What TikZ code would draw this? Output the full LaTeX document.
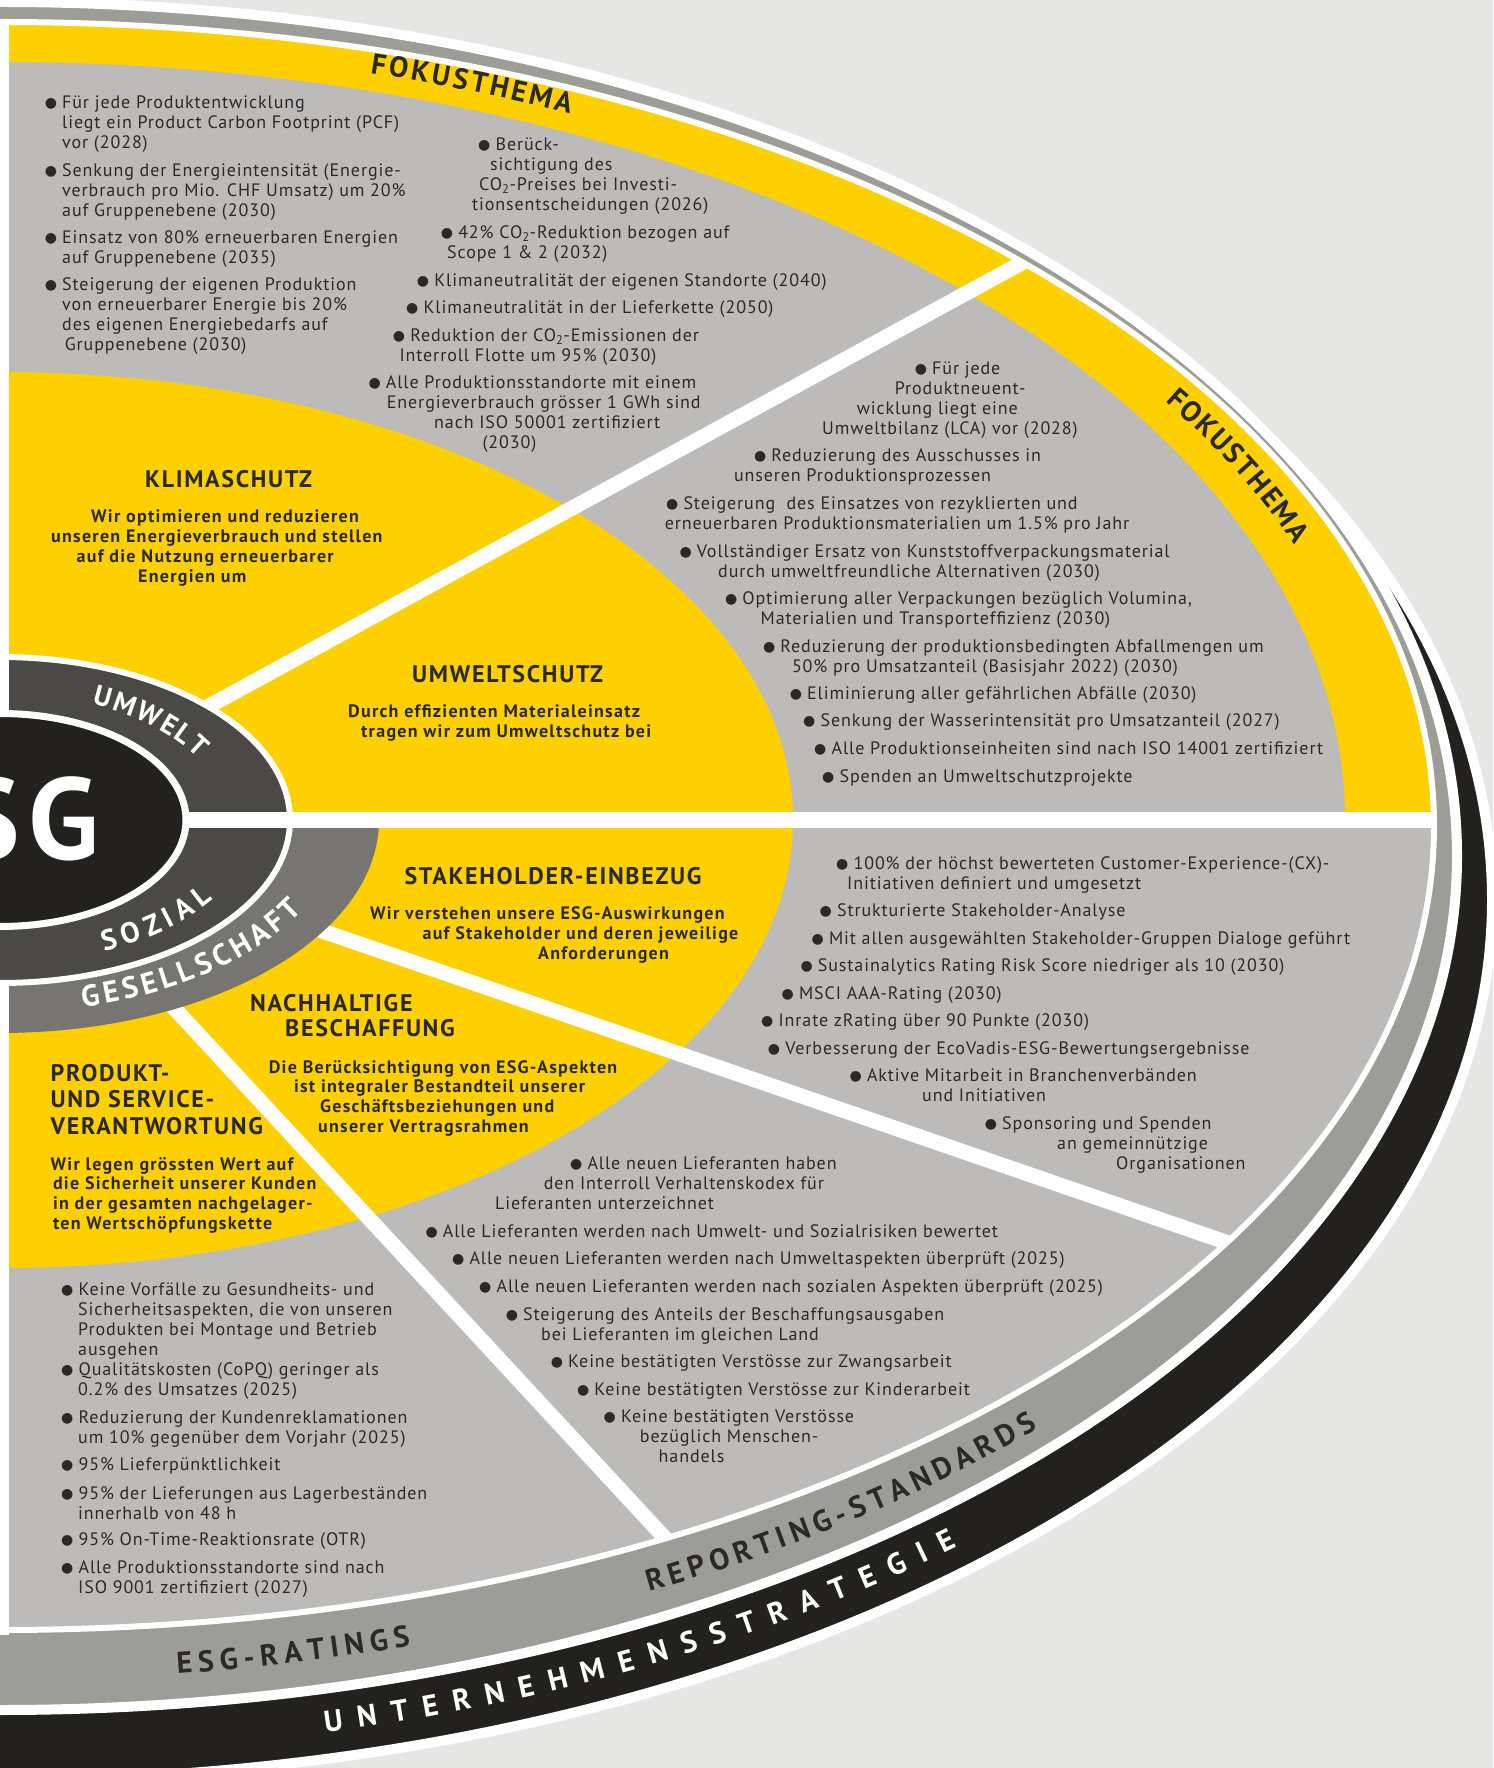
\documentclass[tikz,border=0pt]{standalone}
\usepackage{fontspec}
\setmainfont{PT Sans}[LetterSpace=5, BoldFeatures={LetterSpace=7}]
\newfontfamily\bulfont{DejaVu Sans}
\usetikzlibrary{decorations.text}

\definecolor{bgc}{HTML}{E6E6E4}
\definecolor{greyc}{HTML}{BCBBB9}
\definecolor{yel}{HTML}{FFD000}
\definecolor{ringc}{HTML}{9D9D98}
\definecolor{blk}{HTML}{22211E}
\definecolor{darkc}{HTML}{4A4945}
\definecolor{midc}{HTML}{767571}
\definecolor{txt}{HTML}{2A2927}

\newcommand{\bul}{\makebox[17.4pt][l]{\raisebox{1pt}{\bulfont\fontsize{14}{14}\selectfont ●}}}
\newcommand{\sh}[1]{\hspace*{#1pt}}
\newcommand{\ringfont}{\fontsize{30}{30}\selectfont\bfseries}
\newcommand{\fokusfont}{\fontsize{29}{29}\selectfont\bfseries}

\begin{document}
\begin{tikzpicture}[x=1pt, y=1pt]
    \tikzstyle{item} = [anchor=base west, align=left, inner sep=0, text=txt, font=\fontsize{18}{20}\selectfont]
    \tikzstyle{lead} = [anchor=base west, align=left, inner sep=0, text=txt, font=\fontsize{18}{19.8}\selectfont\bfseries]
    \tikzstyle{head} = [anchor=base, inner sep=0, text=txt, font=\fontsize{24}{25}\selectfont\bfseries]
    \tikzstyle{divider} = [white, line width=15]
    \tikzstyle{ringtext} = [decorate, decoration={text along path, text align=fit to path}]

    \useasboundingbox (0,-948) rectangle (1493,820);
    \clip (0,-948) rectangle (1493,820);
    \fill[bgc] (0,-948) rectangle (1493,820);

    % strategy band and ratings band
    \filldraw[fill=blk, draw=white, line width=10] (0,-80) ellipse [x radius=1492, y radius=880];
    \filldraw[fill=ringc, draw=white, line width=10] (0,-36) ellipse [x radius=1457, y radius=854];

    % fields
    \begin{scope}
        \clip (0,-6) ellipse [x radius=1434, y radius=804];
        \fill[greyc] (0,-900) rectangle (1500,900);
        \fill[yel] (0,0) rectangle (1500,900);
        \fill[greyc] (0,0) ellipse [x radius=1345, y radius=758];
        \fill[yel] (0,0) ellipse [x radius=793, y radius=448];
        \draw[divider] (0,0) -- (28.6:1300);
        \draw[divider] (0,0) -- (-19:1400);
        \draw[divider] (0,0) -- (-47.2:1100);
    \end{scope}
    \draw[white, line width=6] (0,-6) ellipse [x radius=1434, y radius=804];

    % centre
    \fill[midc] (0,0) -- (379,0) arc[start angle=0, end angle=-90, x radius=379, y radius=213] -- cycle;
    \fill[white] (0,-815) rectangle (9,-150);
    \filldraw[fill=darkc, draw=white, line width=6] (0,0) ellipse [x radius=290, y radius=163];
    \fill[white] (0,0) rectangle (9,800);
    \filldraw[fill=blk, draw=white, line width=7] (0,0) ellipse [x radius=186, y radius=106.5];
    \draw[white, line width=16] (189,0) -- (1434,0);

    \node[anchor=base east, inner sep=0, text=white, font=\fontsize{116}{116}\selectfont\bfseries\addfontfeature{LetterSpace=0}] (esg) at (99,-40) {ESG};

    % ring labels
    \path[ringtext, decoration={text={|\fontsize{28}{28}\selectfont\bfseries|UMWELT}, text color=white}] (66:226 and 127) arc[start angle=66, end angle=29, x radius=226, y radius=127];
    \path[ringtext, decoration={text={|\fontsize{29}{29}\selectfont\bfseries|SOZIAL}, text color=white}] (-66:256 and 144) arc[start angle=-66, end angle=-33.5, x radius=256, y radius=144];
    \path[ringtext, decoration={text={|\ringfont|GESELLSCHAFT}, text color=white}] (-76:343 and 193) arc[start angle=-76, end angle=-28, x radius=343, y radius=193];
    \path[ringtext, decoration={text={|\fokusfont|FOKUSTHEMA}, text color=txt}] (74.5:1385 and 775) arc[start angle=74.5, end angle=65.7, x radius=1385, y radius=775];
    \path[ringtext, decoration={text={|\fokusfont|FOKUSTHEMA}, text color=txt}] (32.7:1385 and 775) arc[start angle=32.7, end angle=20.8, x radius=1385, y radius=775];
    \path[ringtext, shift={(0,-20)}, decoration={text={|\ringfont|ESG-RATINGS}, text color=txt}] (-83:1455 and 840) arc[start angle=-83, end angle=-73.6, x radius=1455, y radius=840];
    \path[ringtext, shift={(0,-20)}, decoration={text={|\ringfont|REPORTING-STANDARDS}, text color=txt}] (-63.5:1455 and 840) arc[start angle=-63.5, end angle=-44.5, x radius=1455, y radius=840];
    \path[ringtext, shift={(0,-60)}, decoration={text={|\ringfont|UNTERNEHMENSSTRATEGIE}, text color=white}] (-77.3:1480 and 874) arc[start angle=-77.3, end angle=-49.7, x radius=1480, y radius=874];

    % headings (multi-line nodes sit on the baseline of their last line)
    \node[head] (klima) at (228.6,332) {KLIMASCHUTZ};
    \node[lead] (klimat) at (91,237.6) {Wir optimieren und reduzieren\\\sh{-40}unseren Energieverbrauch und stellen\\\sh{-14.5}auf die Nutzung erneuerbarer\\\sh{47}Energien um};
    \node[head] (umwelt) at (507.6,137.5) {UMWELTSCHUTZ};
    \node[lead] (umweltt) at (348,82.7) {Durch effizienten Materialeinsatz\\\sh{13}tragen wir zum Umweltschutz bei};
    \node[head] (stake) at (553,-64.3) {STAKEHOLDER-EINBEZUG};
    \node[lead] (staket) at (370,-139.6) {Wir verstehen unsere ESG-Auswirkungen\\\sh{52.4}auf Stakeholder und deren jeweilige\\\sh{168}Anforderungen};
    \node[head, anchor=base west, align=left] (besch) at (250,-216.7) {NACHHALTIGE\\\sh{35}BESCHAFFUNG};
    \node[lead] (bescht) at (268.6,-312.4) {Die Berücksichtigung von ESG-Aspekten\\\sh{25.2}ist integraler Bestandteil unserer\\\sh{51.4}Geschäftsbeziehungen und\\\sh{49.4}unserer Vertragsrahmen};
    \node[head, anchor=base west, align=left, font=\fontsize{24}{26.7}\selectfont\bfseries] (prod) at (50.5,-314.4) {PRODUKT-\\UND SERVICE-\\VERANTWORTUNG};
    \node[lead] (prodt) at (50.5,-409.4) {Wir legen grössten Wert auf\\\sh{2.3}die Sicherheit unserer Kunden\\\sh{2.3}in der gesamten nachgelager-\\\sh{2.3}ten Wertschöpfungskette};

    % Klimaschutz goals
    \node[item] (k1) at (44.6,671) {\bul Für jede Produktentwicklung\\\sh{17.4}liegt ein Product Carbon Footprint (PCF)\\\sh{17.4}vor (2028)};
    \node[item] (k2) at (44.6,603) {\bul Senkung der Energieintensität (Energie-\\\sh{17.4}verbrauch pro Mio. CHF Umsatz) um 20\%\\\sh{17.4}auf Gruppenebene (2030)};
    \node[item] (k3) at (44.6,556) {\bul Einsatz von 80\% erneuerbaren Energien\\\sh{17.4}auf Gruppenebene (2035)};
    \node[item] (k4) at (44.6,469) {\bul Steigerung der eigenen Produktion\\\sh{17.4}von erneuerbarer Energie bis 20\%\\\sh{17.4}des eigenen Energiebedarfs auf\\\sh{20}Gruppenebene (2030)};
    \node[item] (k5) at (478,609.3) {\bul Berück-\\\sh{12}sichtigung des\\\sh{1}CO\textsubscript{2}-Preises bei Investi-\\\sh{-6}tionsentscheidungen (2026)};
    \node[item] (k6) at (440.7,561.7) {\bul 42\% CO\textsubscript{2}-Reduktion bezogen auf\\\sh{6.3}Scope 1 \& 2 (2032)};
    \node[item] (k7) at (416.7,533.3) {\bul Klimaneutralität der eigenen Standorte (2040)};
    \node[item] (k8) at (406,506.7) {\bul Klimaneutralität in der Lieferkette (2050)};
    \node[item] (k9) at (392.7,458.3) {\bul Reduktion der CO\textsubscript{2}-Emissionen der\\\sh{6.6}Interroll Flotte um 95\% (2030)};
    \node[item] (k10) at (368.3,371.7) {\bul Alle Produktionsstandorte mit einem\\\sh{18.4}Energieverbrauch grösser 1 GWh sind\\\sh{65.7}nach ISO 50001 zertifiziert\\\sh{114}(2030)};

    % Umweltschutz goals
    \node[item] (u1) at (914.6,385.7) {\bul Für jede\\\sh{-20}Produktneuent-\\\sh{-58}wicklung liegt eine\\\sh{-92.6}Umweltbilanz (LCA) vor (2028)};
    \node[item] (u2) at (753.8,338.3) {\bul Reduzierung des Ausschusses in\\\sh{-20}unseren Produktionsprozessen};
    \node[item] (u3) at (665.9,290) {\bul Steigerung\ \ des Einsatzes von rezyklierten und\\\sh{-1.3}erneuerbaren Produktionsmaterialien um 1.5\% pro Jahr};
    \node[item] (u4) at (679.3,242.7) {\bul Vollständiger Ersatz von Kunststoffverpackungsmaterial\\\sh{38.7}durch umweltfreundliche Alternativen (2030)};
    \node[item] (u5) at (724.8,195) {\bul Optimierung aller Verpackungen bezüglich Volumina,\\\sh{35.7}Materialien und Transporteffizienz (2030)};
    \node[item] (u6) at (762.8,147.7) {\bul Reduzierung der produktionsbedingten Abfallmengen um\\\sh{29}50\% pro Umsatzanteil (Basisjahr 2022) (2030)};
    \node[item] (u7) at (789.6,120) {\bul Eliminierung aller gefährlichen Abfälle (2030)};
    \node[item] (u8) at (803,93.3) {\bul Senkung der Wasserintensität pro Umsatzanteil (2027)};
    \node[item] (u9) at (814,65.7) {\bul Alle Produktionseinheiten sind nach ISO 14001 zertifiziert};
    \node[item] (u10) at (822,37.3) {\bul Spenden an Umweltschutzprojekte};

    % Stakeholder goals
    \node[item] (s1) at (836,-69.3) {\bul 100\% der höchst bewerteten Customer-Experience-(CX)-\\\sh{11}Initiativen definiert und umgesetzt};
    \node[item] (s2) at (819.5,-96.7) {\bul Strukturierte Stakeholder-Analyse};
    \node[item] (s3) at (811.4,-124.3) {\bul Mit allen ausgewählten Stakeholder-Gruppen Dialoge geführt};
    \node[item] (s4) at (800.3,-151.7) {\bul Sustainalytics Rating Risk Score niedriger als 10 (2030)};
    \node[item] (s5) at (781.5,-179.3) {\bul MSCI AAA-Rating (2030)};
    \node[item] (s6) at (761,-206.7) {\bul Inrate zRating über 90 Punkte (2030)};
    \node[item] (s7) at (767.7,-234.3) {\bul Verbesserung der EcoVadis-ESG-Bewertungsergebnisse};
    \node[item] (s8) at (849.4,-281.7) {\bul Aktive Mitarbeit in Branchenverbänden\\\sh{72.6}und Initiativen};
    \node[item] (s9) at (984.6,-349.3) {\bul Sponsoring und Spenden\\\sh{72.4}an gemeinnützige\\\sh{131.4}Organisationen};

    % Beschaffung goals
    \node[item] (b1) at (569.9,-389.3) {\bul Alle neuen Lieferanten haben\\\sh{-26.2}den Interroll Verhaltenskodex für\\\sh{-74.9}Lieferanten unterzeichnet};
    \node[item] (b2) at (425.3,-417.3) {\bul Alle Lieferanten werden nach Umwelt- und Sozialrisiken bewertet};
    \node[item] (b3) at (451.9,-444.3) {\bul Alle neuen Lieferanten werden nach Umweltaspekten überprüft (2025)};
    \node[item] (b4) at (479,-472.7) {\bul Alle neuen Lieferanten werden nach sozialen Aspekten überprüft (2025)};
    \node[item] (b5) at (505.6,-520.7) {\bul Steigerung des Anteils der Beschaffungsausgaben\\\sh{35.4}bei Lieferanten im gleichen Land};
    \node[item] (b6) at (550.6,-547.3) {\bul Keine bestätigten Verstösse zur Zwangsarbeit};
    \node[item] (b7) at (576.8,-575) {\bul Keine bestätigten Verstösse zur Kinderarbeit};
    \node[item] (b8) at (603.4,-642.7) {\bul Keine bestätigten Verstösse\\\sh{36.3}bezüglich Menschen-\\\sh{55.1}handels};

    % Produkt goals
    \node[item] (p1) at (61,-535.8) {\bul Keine Vorfälle zu Gesundheits- und\\\sh{17}Sicherheitsaspekten, die von unseren\\\sh{17}Produkten bei Montage und Betrieb\\\sh{17}ausgehen};
    \node[item] (p2) at (61,-575.6) {\bul Qualitätskosten (CoPQ) geringer als\\\sh{17}0.2\% des Umsatzes (2025)};
    \node[item] (p3) at (61,-623) {\bul Reduzierung der Kundenreklamationen\\\sh{17}um 10\% gegenüber dem Vorjahr (2025)};
    \node[item] (p4) at (61,-650.5) {\bul 95\% Lieferpünktlichkeit};
    \node[item] (p5) at (61,-699) {\bul 95\% der Lieferungen aus Lagerbeständen\\\sh{17}innerhalb von 48 h};
    \node[item] (p6) at (61,-725.7) {\bul 95\% On-Time-Reaktionsrate (OTR)};
    \node[item] (p7) at (61,-773.3) {\bul Alle Produktionsstandorte sind nach\\\sh{17}ISO 9001 zertifiziert (2027)};
\end{tikzpicture}
\end{document}
